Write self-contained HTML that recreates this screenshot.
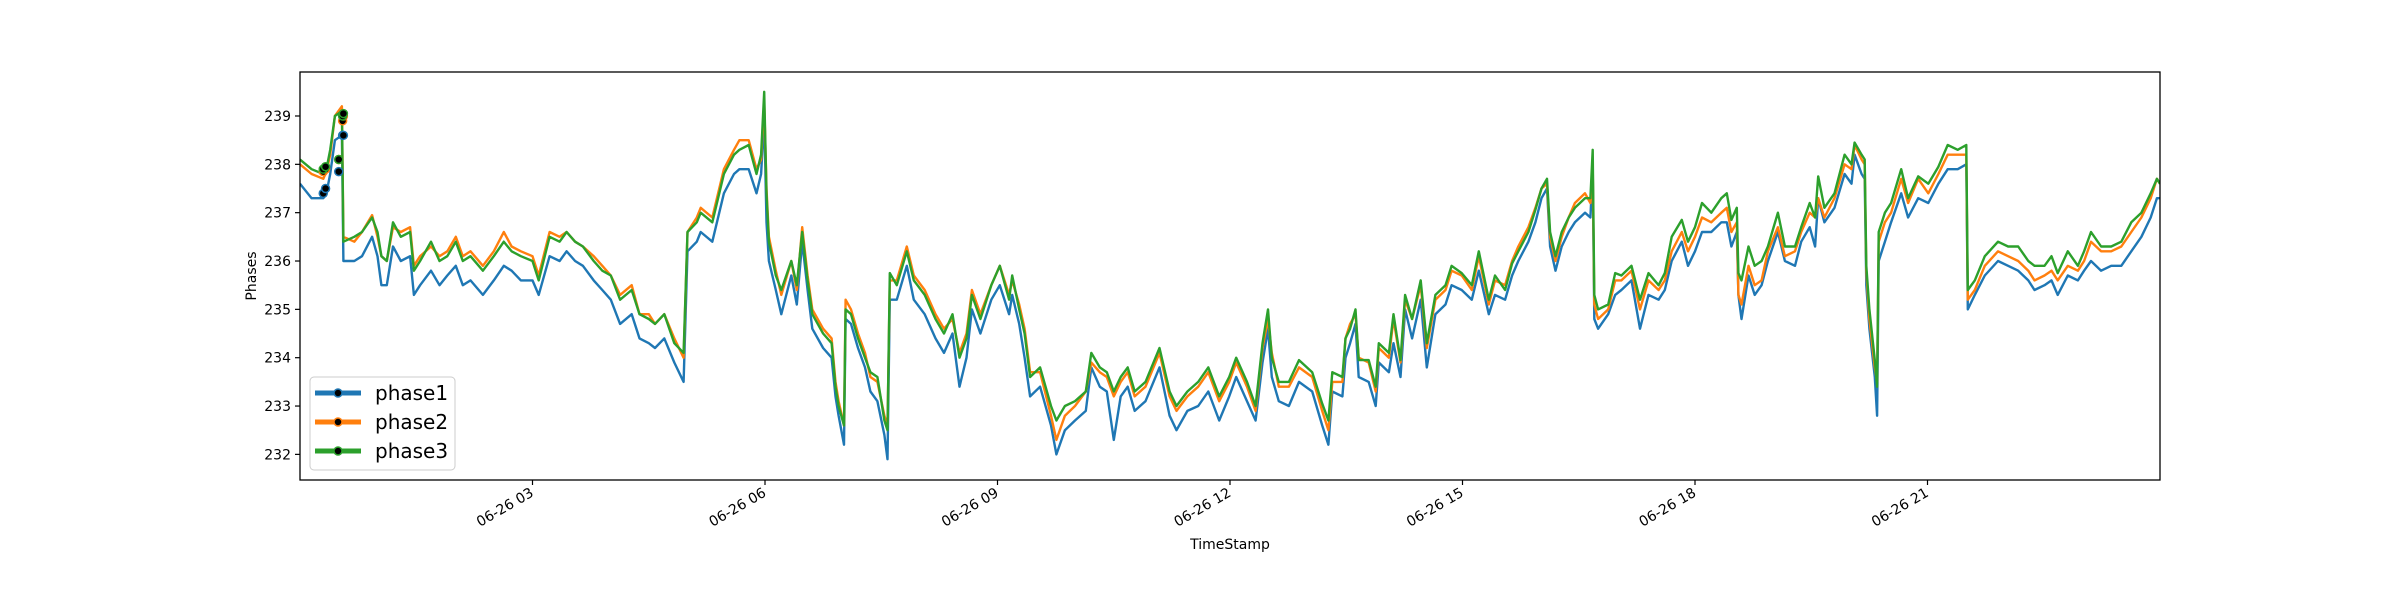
<!DOCTYPE html>
<html><head><meta charset="utf-8">
<style>
html,body{margin:0;padding:0;background:#fff;}
svg{display:block;font-family:"DejaVu Sans","Liberation Sans",sans-serif;}
</style></head>
<body>
<svg id="chart" width="2400" height="600" viewBox="0 0 2400 600" xmlns="http://www.w3.org/2000/svg">
<rect x="0" y="0" width="2400" height="600" fill="#fff"/>
<g id="plot"></g>
<g id="axes"></g>
<g id="legend"></g>
</svg>
<script>
const hours=[0,0.15,0.3,0.34,0.39,0.45,0.54,0.56,0.7,0.8,
0.93,1.0,1.05,1.12,1.2,1.3,1.42,1.47,1.55,1.69,
1.8,1.9,2.01,2.1,2.2,2.36,2.5,2.63,2.73,2.85,
3.0,3.08,3.22,3.35,3.44,3.55,3.65,3.79,3.9,4.01,
4.13,4.28,4.38,4.5,4.58,4.7,4.83,4.95,5.0,5.12,
5.17,5.32,5.47,5.6,5.67,5.79,5.89,5.95,5.99,6.02,
6.05,6.14,6.21,6.34,6.41,6.48,6.55,6.61,6.75,6.86,
6.91,6.95,7.02,7.04,7.11,7.2,7.29,7.36,7.45,7.54,
7.58,7.61,7.70,7.83,7.92,8.06,8.2,8.31,8.42,8.51,
8.6,8.67,8.78,8.92,9.03,9.15,9.19,9.28,9.35,9.42,
9.55,9.69,9.76,9.87,10.0,10.14,10.21,10.32,10.41,10.5,
10.59,10.68,10.77,10.91,11.09,11.22,11.31,11.45,11.59,11.72,
11.86,11.99,12.08,12.22,12.33,12.42,12.49,12.54,12.63,12.76,
12.89,13.06,13.19,13.27,13.32,13.45,13.49,13.55,13.62,13.66,
13.79,13.88,13.92,14.05,14.11,14.2,14.26,14.35,14.46,14.54,
14.65,14.78,14.86,14.99,15.12,15.21,15.34,15.42,15.55,15.64,
15.72,15.85,15.94,16.02,16.09,16.13,16.2,16.28,16.37,16.45,
16.58,16.65,16.68,16.7,16.75,16.88,16.97,17.05,17.18,17.29,
17.4,17.53,17.61,17.7,17.83,17.91,18.0,18.09,18.21,18.34,
18.41,18.47,18.54,18.56,18.6,18.69,18.77,18.86,18.94,19.07,
19.16,19.29,19.37,19.48,19.55,19.59,19.67,19.8,19.93,20.02,
20.06,20.15,20.19,20.21,20.25,20.32,20.35,20.37,20.45,20.53,
20.66,20.75,20.88,21.01,21.14,21.26,21.39,21.5,21.52,21.61,
21.74,21.91,22.04,22.17,22.3,22.38,22.51,22.6,22.68,22.81,
22.94,23.02,23.11,23.24,23.37,23.5,23.63,23.76,23.88,23.96,24.0];
const phase3=[238.1,237.9,237.8,237.9,238.3,239.0,239.1,236.4,236.5,236.6,
236.9,236.6,236.1,236.0,236.8,236.5,236.6,235.8,236.0,236.4,
236.0,236.1,236.4,236.0,236.1,235.8,236.1,236.4,236.2,236.1,
236.0,235.6,236.5,236.4,236.6,236.4,236.3,236.0,235.8,235.7,
235.2,235.4,234.9,234.8,234.7,234.9,234.3,234.1,236.6,236.8,
237.0,236.8,237.8,238.2,238.3,238.4,237.8,238.2,239.5,237.4,
236.4,235.7,235.4,236.0,235.5,236.6,235.6,234.9,234.5,234.3,
233.4,233.0,232.6,235.0,234.9,234.4,234.0,233.7,233.6,232.7,
232.5,235.75,235.5,236.2,235.6,235.3,234.8,234.5,234.9,234.0,
234.4,235.3,234.8,235.5,235.9,235.2,235.7,235.0,234.5,233.6,
233.8,233.0,232.7,233.0,233.1,233.3,234.1,233.8,233.7,233.3,
233.6,233.8,233.3,233.5,234.2,233.3,233.0,233.3,233.5,233.8,
233.2,233.6,234.0,233.5,233.0,234.3,235.0,234.0,233.5,233.5,
233.95,233.7,233.05,232.7,233.7,233.6,234.4,234.6,235.0,233.95,
233.95,233.4,234.3,234.1,234.9,233.95,235.3,234.8,235.6,234.3,
235.3,235.5,235.9,235.75,235.5,236.2,235.2,235.7,235.4,235.95,
236.2,236.6,237.06,237.5,237.7,236.6,236.1,236.6,236.9,237.1,
237.3,237.3,238.3,235.3,235.0,235.1,235.75,235.7,235.9,235.2,
235.75,235.5,235.75,236.5,236.85,236.4,236.7,237.2,237.0,237.3,
237.4,236.85,237.1,235.75,235.6,236.3,235.9,236.0,236.3,237.0,
236.3,236.3,236.7,237.2,236.9,237.75,237.1,237.4,238.2,238.0,
238.45,238.2,238.1,235.9,235.0,233.95,233.4,236.6,237.0,237.2,
237.9,237.3,237.75,237.6,237.95,238.4,238.3,238.4,235.4,235.6,
236.1,236.4,236.3,236.3,236.0,235.9,235.9,236.1,235.75,236.2,
235.9,236.2,236.6,236.3,236.3,236.4,236.8,237.0,237.4,237.7,237.6];
const phase2=[238.0,237.8,237.7,237.85,238.2,239.0,239.2,236.5,236.4,236.6,
236.95,236.5,236.1,236.0,236.7,236.6,236.7,235.9,236.1,236.3,
236.1,236.2,236.5,236.1,236.2,235.9,236.2,236.6,236.3,236.2,
236.1,235.7,236.6,236.5,236.6,236.4,236.3,236.1,235.9,235.7,
235.3,235.5,234.9,234.9,234.7,234.9,234.4,234.0,236.6,236.9,
237.1,236.9,237.9,238.3,238.5,238.5,237.9,238.1,239.3,237.5,
236.5,235.8,235.3,236.0,235.4,236.7,235.7,235.0,234.6,234.4,
233.5,233.1,232.6,235.2,235.0,234.5,234.1,233.6,233.5,232.8,
232.6,235.6,235.6,236.3,235.7,235.4,234.9,234.6,234.8,234.1,
234.5,235.4,234.9,235.5,235.9,235.3,235.6,235.1,234.6,233.7,
233.7,232.8,232.3,232.8,233.0,233.3,233.9,233.7,233.6,233.2,
233.5,233.7,233.2,233.4,234.1,233.2,232.9,233.2,233.4,233.7,
233.1,233.5,233.9,233.4,232.9,234.2,234.8,234.1,233.4,233.4,
233.8,233.6,232.9,232.5,233.5,233.5,234.4,234.7,234.9,234.0,
233.9,233.3,234.2,234.0,234.8,233.9,235.2,234.8,235.5,234.2,
235.2,235.4,235.8,235.7,235.4,236.1,235.1,235.6,235.5,236.0,
236.3,236.7,237.1,237.5,237.6,236.5,236.0,236.5,236.9,237.2,
237.4,237.2,238.0,235.1,234.8,235.0,235.6,235.6,235.8,235.0,
235.6,235.4,235.6,236.2,236.6,236.2,236.5,236.9,236.8,237.0,
237.1,236.6,236.8,235.3,235.1,235.9,235.5,235.6,236.2,236.7,
236.1,236.2,236.6,237.0,236.9,237.3,236.9,237.3,238.0,237.9,
238.4,238.1,238.0,235.8,234.8,233.8,233.5,236.4,236.8,237.0,
237.7,237.2,237.7,237.4,237.8,238.2,238.2,238.2,235.2,235.4,
235.9,236.2,236.1,236.0,235.8,235.6,235.7,235.8,235.6,235.9,
235.8,236.0,236.4,236.2,236.2,236.3,236.6,236.9,237.3,237.7,237.6];
const phase1=[237.6,237.3,237.3,237.4,237.8,238.5,238.6,236.0,236.0,236.1,
236.5,236.1,235.5,235.5,236.3,236.0,236.1,235.3,235.5,235.8,
235.5,235.7,235.9,235.5,235.6,235.3,235.6,235.9,235.8,235.6,
235.6,235.3,236.1,236.0,236.2,236.0,235.9,235.6,235.4,235.2,
234.7,234.9,234.4,234.3,234.2,234.4,233.9,233.5,236.2,236.4,
236.6,236.4,237.4,237.8,237.9,237.9,237.4,237.8,239.0,236.8,
236.0,235.4,234.9,235.7,235.1,236.4,235.4,234.6,234.2,234.0,
233.2,232.8,232.2,234.8,234.7,234.2,233.8,233.3,233.1,232.4,
231.9,235.2,235.2,235.9,235.2,234.9,234.4,234.1,234.5,233.4,
234.0,235.0,234.5,235.2,235.5,234.9,235.3,234.7,234.0,233.2,
233.4,232.6,232.0,232.5,232.7,232.9,233.8,233.4,233.3,232.3,
233.2,233.4,232.9,233.1,233.8,232.8,232.5,232.9,233.0,233.3,
232.7,233.2,233.6,233.1,232.7,233.9,234.6,233.6,233.1,233.0,
233.5,233.3,232.6,232.2,233.3,233.2,234.0,234.3,234.7,233.6,
233.5,233.0,233.9,233.7,234.3,233.6,235.0,234.4,235.2,233.8,
234.9,235.1,235.5,235.4,235.2,235.8,234.9,235.3,235.2,235.7,
236.0,236.4,236.8,237.3,237.5,236.3,235.8,236.3,236.6,236.8,
237.0,236.9,237.9,234.8,234.6,234.9,235.3,235.4,235.6,234.6,
235.3,235.2,235.4,236.0,236.4,235.9,236.2,236.6,236.6,236.8,
236.8,236.3,236.6,235.3,234.8,235.7,235.3,235.5,236.0,236.6,
236.0,235.9,236.4,236.7,236.3,237.3,236.8,237.1,237.8,237.6,
238.2,237.8,237.7,235.5,234.6,233.6,232.8,236.0,236.4,236.8,
237.4,236.9,237.3,237.2,237.6,237.9,237.9,238.0,235.0,235.3,
235.7,236.0,235.9,235.8,235.6,235.4,235.5,235.6,235.3,235.7,
235.6,235.8,236.0,235.8,235.9,235.9,236.2,236.5,236.9,237.3,237.3];
const markerHours=[0.3,0.33,0.5,0.55,0.56];
const marker1=[237.4,237.5,237.85,238.6,238.6];
const marker2=[237.85,237.9,238.1,238.9,239.0];
const marker3=[237.9,237.95,238.1,239.0,239.05];
const yTicks=[232,233,234,235,236,237,238,239];
const xTickHours=[3,6,9,12,15,18,21];
const xTickLabels=["06-26 03","06-26 06","06-26 09","06-26 12","06-26 15","06-26 18","06-26 21"];
const seriesNames=["phase1","phase2","phase3"];

const L=300,R=2160,T=72,B=480,X0=0,X1=24,Y0=231.47,Y1=239.91;
const NS="http://www.w3.org/2000/svg";
function xs(h){return L+(h-X0)/(X1-X0)*(R-L);}
function ys(v){return B-(v-Y0)/(Y1-Y0)*(B-T);}
function mk(tag,attrs,parent){const e=document.createElementNS(NS,tag);for(const k in attrs)e.setAttribute(k,attrs[k]);parent.appendChild(e);return e;}
const plot=document.getElementById('plot'),axes=document.getElementById('axes'),legend=document.getElementById('legend');
const colors=["#1f77b4","#ff7f0e","#2ca02c"];
const allSeries=[phase1,phase2,phase3];
const allMarkers=[marker1,marker2,marker3];
const clip=mk('clipPath',{id:'cp'},plot);
mk('rect',{x:L,y:T,width:R-L,height:B-T},clip);
allSeries.forEach((s,i)=>{
  const d=s.map((v,j)=>(j?'L':'M')+xs(hours[j]).toFixed(1)+' '+ys(v).toFixed(1)).join(' ');
  const p=mk('path',{d:d,fill:'none',stroke:colors[i],'stroke-width':2.4,'stroke-linejoin':'round','clip-path':'url(#cp)'},plot);
  
  
});
allMarkers.forEach((m,i)=>{
  m.forEach((v,j)=>{
    const c=mk('circle',{cx:xs(markerHours[j]),cy:ys(v),r:4,fill:'#000',stroke:colors[i],'stroke-width':1.5},plot);
    
    
  });
});
const fr=mk('rect',{x:L,y:T,width:R-L,height:B-T,fill:'none',stroke:'#000','stroke-width':1.3},axes);


yTicks.forEach(v=>{
  const y=ys(v);
  mk('line',{x1:L-5,x2:L,y1:y,y2:y,stroke:'#000','stroke-width':1.2},axes);
  const t=mk('text',{x:L-9,y:y+5,'text-anchor':'end','font-size':14,fill:'#000'},axes);
  t.textContent=v;
  
  
});
xTickHours.forEach((h,i)=>{
  const x=xs(h);
  mk('line',{x1:x,x2:x,y1:B,y2:B+5,stroke:'#000','stroke-width':1.2},axes);
  const t=mk('text',{x:x,y:B+16,'text-anchor':'end','font-size':14,fill:'#000',transform:'rotate(-30 '+x+' '+(B+12)+')'},axes);
  t.textContent=xTickLabels[i];
  
  
});
const xl=mk('text',{x:(L+R)/2,y:549,'text-anchor':'middle','font-size':14,fill:'#000'},axes);
xl.textContent='TimeStamp';


const yl=mk('text',{x:256,y:(T+B)/2,'text-anchor':'middle','font-size':14,fill:'#000',transform:'rotate(-90 256 '+((T+B)/2)+')'},axes);
yl.textContent='Phases';


const lb=mk('rect',{x:310,y:377,width:145,height:93,rx:4,fill:'#fff','fill-opacity':0.8,stroke:'#ccc','stroke-width':1},legend);


seriesNames.forEach((n,i)=>{
  const y=393+i*29;
  const g=mk('g',{},legend);
  
  
  mk('line',{x1:315,x2:361,y1:y,y2:y,stroke:colors[i],'stroke-width':5},g);
  mk('circle',{cx:338,cy:y,r:4,fill:'#000',stroke:colors[i],'stroke-width':1.5},g);
  const t=mk('text',{x:375,y:y+7,'font-size':20,fill:'#000'},g);
  t.textContent=n;
});
</script>
</body></html>
